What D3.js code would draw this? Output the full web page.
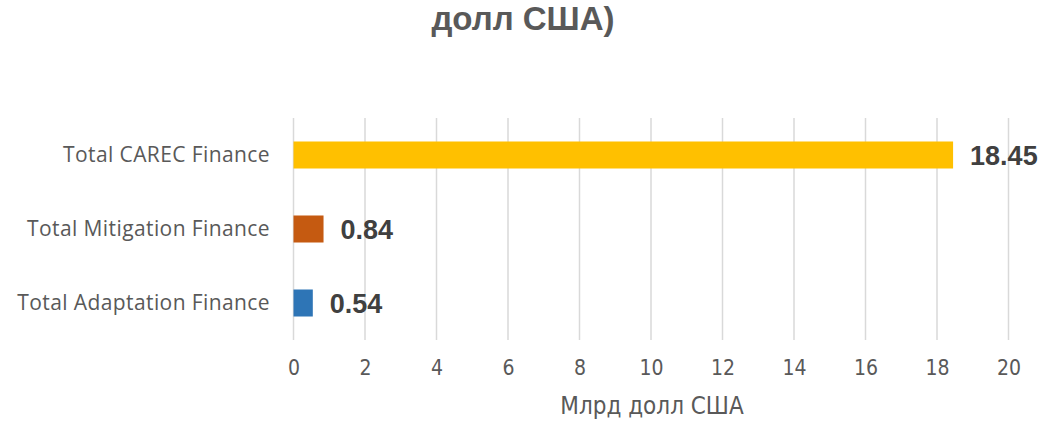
<!DOCTYPE html>
<html>
<head>
<meta charset="utf-8">
<script src="https://cdn.jsdelivr.net/npm/d3@7"></script>
<style>
  body { margin: 0; background: #fff; }
  svg { display: block; }
</style>
</head>
<body>
<div id="chart"></div>
<script>
// Data
const categories = ["Total CAREC Finance", "Total Mitigation Finance", "Total Adaptation Finance"];
const values = [18.45, 0.84, 0.54];
const barColors = ["#ffc000", "#c55a11", "#2e75b6"];
const xTicks = [0, 2, 4, 6, 8, 10, 12, 14, 16, 18, 20];
const titleText = "долл США)";
const axisTitle = "Млрд долл США";

const width = 1043, height = 421;
const margin = { top: 118, right: 34.5, bottom: 81, left: 293.5 };

const svg = d3.select("#chart").append("svg")
  .attr("width", width)
  .attr("height", height);

const x = d3.scaleLinear()
  .domain([0, 20])
  .range([margin.left, width - margin.right]);

const y = d3.scaleBand()
  .domain(categories)
  .range([margin.top, height - margin.bottom])
  .paddingInner(0.635)
  .paddingOuter(0.3175);

const narrowFont = "Liberation Sans Narrow, DejaVu Sans Condensed, sans-serif";

// Title (only the last line is inside the frame)
svg.append("text")
  .attr("x", 523)
  .attr("y", 30)
  .attr("text-anchor", "middle")
  .attr("font-family", "Liberation Sans, Arial, sans-serif")
  .attr("font-weight", "bold")
  .attr("font-size", 33)
  .attr("fill", "#595959")
  .text(titleText);

// Gridlines
svg.append("g")
  .selectAll("line")
  .data(xTicks)
  .join("line")
  .attr("x1", (d) => x(d))
  .attr("x2", (d) => x(d))
  .attr("y1", margin.top)
  .attr("y2", height - margin.bottom)
  .attr("stroke", "#d9d9d9")
  .attr("stroke-width", 1.5);

// X axis labels
const xAxis = svg.append("g")
  .attr("transform", `translate(0,${height - margin.bottom + 20})`)
  .call(d3.axisBottom(x).tickValues(xTicks).tickSize(0).tickPadding(0));
xAxis.select(".domain").remove();
xAxis.selectAll("text")
  .attr("font-family", narrowFont)
  .attr("font-size", 21)
  .attr("fill", "#595959");

// Axis title
svg.append("text")
  .attr("x", 652)
  .attr("y", 414)
  .attr("text-anchor", "middle")
  .attr("font-family", narrowFont)
  .attr("font-size", 24)
  .attr("fill", "#595959")
  .text(axisTitle);

// Category labels
svg.append("g")
  .selectAll("text")
  .data(categories)
  .join("text")
  .attr("x", 270)
  .attr("y", (d) => y(d) + y.bandwidth() / 2)
  .attr("dy", "0.35em")
  .attr("text-anchor", "end")
  .attr("font-family", "Open Sans, sans-serif")
  .attr("font-size", 21)
  .attr("letter-spacing", 0.4)
  .attr("fill", "#595959")
  .text((d) => d);

// Bars
svg.append("g")
  .selectAll("rect")
  .data(values)
  .join("rect")
  .attr("x", x(0))
  .attr("y", (d, i) => y(categories[i]))
  .attr("width", (d) => x(d) - x(0))
  .attr("height", y.bandwidth())
  .attr("fill", (d, i) => barColors[i]);

// Value labels
svg.append("g")
  .selectAll("text")
  .data(values)
  .join("text")
  .attr("x", (d) => x(d) + 17)
  .attr("y", (d, i) => y(categories[i]) + y.bandwidth() / 2)
  .attr("dy", "0.36em")
  .attr("font-family", "Liberation Sans, Arial, sans-serif")
  .attr("font-weight", "bold")
  .attr("font-size", 27)
  .attr("fill", "#404040")
  .text((d) => d.toFixed(2));
</script>
</body>
</html>
